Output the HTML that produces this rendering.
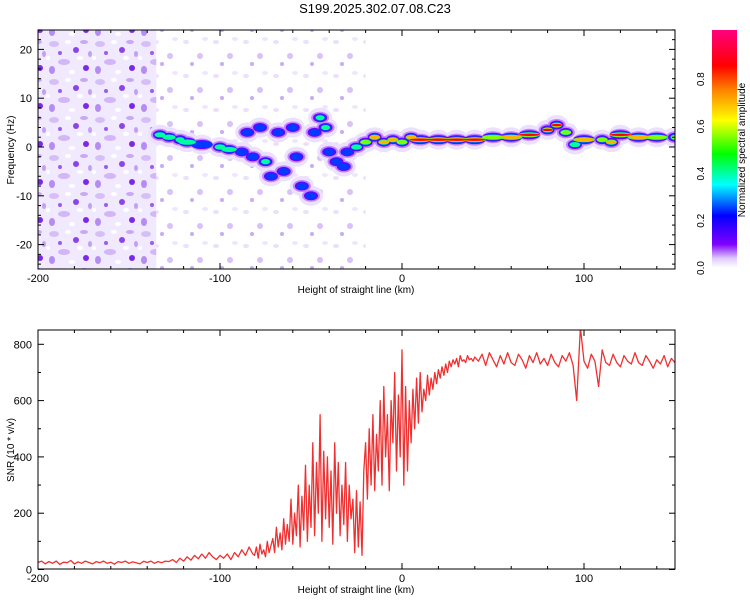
<!DOCTYPE html>
<html><head><meta charset="utf-8"><style>
body{margin:0;background:#fff;font-family:"Liberation Sans",sans-serif}
svg text{font-family:"Liberation Sans",sans-serif;font-size:11px;fill:#000}
</style></head><body>
<svg id="chart" width="750" height="600">
<defs>
<pattern id="noiseA" width="46" height="38" patternUnits="userSpaceOnUse">
<rect width="46" height="38" fill="#f1e9fd"/>
<ellipse cx="8" cy="6" rx="5" ry="3" fill="#d6bff8"/><ellipse cx="30" cy="12" rx="3" ry="3" fill="#8a45ea"/>
<ellipse cx="18" cy="24" rx="6" ry="3" fill="#d2b6f7"/><ellipse cx="40" cy="30" rx="3" ry="3" fill="#7a2ae6"/>
<ellipse cx="6" cy="32" rx="3" ry="4" fill="#b58cf4"/><ellipse cx="26" cy="34" rx="3" ry="2" fill="#fff"/>
<ellipse cx="38" cy="4" rx="4" ry="2" fill="#c9a8f6"/><ellipse cx="14" cy="15" rx="2" ry="2" fill="#9a5df0"/>
<ellipse cx="22" cy="4" rx="3" ry="2" fill="#fff"/><ellipse cx="34" cy="20" rx="3" ry="2" fill="#fff"/>
<ellipse cx="44" cy="16" rx="2" ry="3" fill="#c2a0f5"/><ellipse cx="2" cy="20" rx="2" ry="2" fill="#fff"/>
</pattern>
<pattern id="noiseB" width="30" height="34" patternUnits="userSpaceOnUse">
<ellipse cx="6" cy="8" rx="3" ry="2" fill="#ebdffd"/><ellipse cx="20" cy="22" rx="3" ry="3" fill="#d8c2f8"/>
<ellipse cx="12" cy="30" rx="2" ry="2" fill="#c9abf6"/><ellipse cx="25" cy="5" rx="3" ry="2" fill="#efe6fd"/>
</pattern>
<linearGradient id="cbar" x1="0" y1="1" x2="0" y2="0">
<stop offset="0" stop-color="#ffffff"/><stop offset="0.04" stop-color="#e0ccff"/><stop offset="0.1" stop-color="#8000ff"/>
<stop offset="0.22" stop-color="#0000ff"/><stop offset="0.35" stop-color="#00ffff"/><stop offset="0.48" stop-color="#00ff00"/>
<stop offset="0.62" stop-color="#ffff00"/><stop offset="0.75" stop-color="#ff8000"/><stop offset="0.85" stop-color="#ff0000"/>
<stop offset="1" stop-color="#ff0080"/>
</linearGradient>
<clipPath id="clipTop"><rect x="38" y="30" width="637" height="239"/></clipPath>
<clipPath id="clipBot"><rect x="38" y="330" width="637" height="239"/></clipPath>
</defs>
<text x="375" y="13" text-anchor="middle" style="font-size:13px">S199.2025.302.07.08.C23</text>
<g id="top"></g>
<g id="bot"></g>
<g id="cb"></g>
</svg>
<script>
const xTicks=[-200,-100,0,100];
const fTicks=[-20,-10,0,10,20];
const snrTicks=[0,200,400,600,800];
const cbTicks=[0.0,0.2,0.4,0.6,0.8];
const ridgeKm=[-133,-128,-122,-118,-110,-100,-95,-88,-85,-82,-78,-75,-72,-68,-65,-60,-58,-55,-50,-48,-45,-42,-40,-36,-32,-30,-25,-20,-15,-10,-5,0,5,10,20,30,40,50,60,70,80,85,90,95,100,110,115,120,130,140,150];
const ridgeHz=[2.5,2,1.5,1,0.5,0,-0.5,-1,3,-2,4,-3,-6,3,-5,4,-2,-8,-10,3,6,4,-1,-3,-4,-1,0,1,2,1,1.5,1,2,1.5,1.5,1.5,1.5,2,2,2.5,3.5,4.5,3,0.5,1.5,1.5,1,2.5,2,2,2];
const ridgeAmp=[0.45,0.4,0.5,0.5,0.35,0.5,0.45,0.3,0.3,0.3,0.35,0.4,0.3,0.3,0.3,0.35,0.3,0.3,0.3,0.35,0.4,0.4,0.3,0.35,0.3,0.3,0.5,0.6,0.7,0.8,0.7,0.6,0.8,0.85,0.9,0.9,0.9,0.6,0.8,0.9,0.85,0.9,0.6,0.5,0.8,0.6,0.7,0.85,0.8,0.6,0.6];
// SNR sampled on segments [startKm, endKm, stepKm]
const snrSegments=[[-200,-82,2],[-81,40,1],[42,150,2]];
const snrValuesQuiet=[25,30,20,28,22,30,18,26,24,32,20,27,22,30,25,20,28,24,30,22,26,19,28,25,30,22,27,24,20,29,25,30,22,28,24,30,
28,35,25,40,30,45,33,50,38,55,40,60,45,35,50,
40,55,35,60,45,70,50,80,55];
const snrValuesRise=[50,80,40,90,55,70,45,100,60,85,
110,60,150,80,130,70,180,90,160,100,
250,90,200,120,300,80,260,140,370,100,
300,150,450,120,380,200,550,100,420,180,
400,150,350,90,450,200,380,120,300,160,
380,100,300,180,250,60,280,80,240,50,
350,450,250,500,300,550,280,480,350,600,
300,650,400,550,280,600,450,700,350,620,
400,780,300,650,350,600,450,640,500,680,
520,700,560,640,600,690,620,680,640,700,
660,710,680,720,690,730,700,740,720,745,
730,750,720,760,740,745,735,760,745,750,
740,755];
const snrValuesPlateau=[740,765,725,770,745,720,760,730,770,735,725,765,745,715,760,735,770,730,750,725,765,735,720,760,740,770,725,600,860,740,715,765,740,650,780,735,725,765,735,720,760,740,730,770,735,725,760,740,715,745,730,760,720,750,735];
const NS="http://www.w3.org/2000/svg";
function mk(p,t,a,txt){const e=document.createElementNS(NS,t);for(const k in a)e.setAttribute(k,a[k]);if(txt!==undefined)e.textContent=txt;p.appendChild(e);return e;}
const X=km=>38+(km+200)*637/350;
const YF=hz=>147-hz*4.88;
const YS=v=>569.5-v*0.2815;
function cmap(a){const s=[[0,[255,255,255]],[0.04,[224,204,255]],[0.1,[128,0,255]],[0.22,[0,0,255]],[0.35,[0,255,255]],[0.48,[0,255,0]],[0.62,[255,255,0]],[0.75,[255,128,0]],[0.85,[255,0,0]],[1,[255,0,128]]];
for(let i=1;i<s.length;i++)if(a<=s[i][0]){const t=(a-s[i-1][0])/(s[i][0]-s[i-1][0]);const c=s[i-1][1].map((v,j)=>Math.round(v+(s[i][1][j]-v)*t));return`rgb(${c})`;}return'rgb(255,0,128)';}
const topG=document.getElementById('top'),botG=document.getElementById('bot'),cbG=document.getElementById('cb');
// top panel
const tg=mk(topG,'g',{'clip-path':'url(#clipTop)'});
let r=mk(tg,'rect',{x:X(-200),y:30,width:X(-135)-X(-200),height:239,fill:'url(#noiseA)'});


r=mk(tg,'rect',{x:X(-135),y:30,width:X(-20)-X(-135),height:239,fill:'url(#noiseB)'});


const layers=[[0.02,12,10,'#ece0fd'],[0.05,9,6],[0.12,7,4.5],[0.25,5.5,3.4],[0.4,4.5,2.6],[0.55,3.5,2],[0.7,2.8,1.6],[0.85,2,1.2]];
layers.forEach(([lv,rx,ry,col])=>{ridgeKm.forEach((km,i)=>{const a=ridgeAmp[i];if(a<lv)return;
const w=(i<ridgeKm.length-1)?Math.max(rx,(X(ridgeKm[i+1])-X(km))*0.6):rx;
const e=mk(tg,'ellipse',{cx:X(km),cy:YF(ridgeHz[i]),rx:w,ry:ry,fill:col||cmap(lv===0.05?0.06:lv)});

});});
mk(topG,'rect',{x:38,y:30,width:637,height:239,fill:'none',stroke:'#000','stroke-width':1});
function xAxis(g,y0,y1){xTicks.forEach(t=>{mk(g,'line',{x1:X(t),x2:X(t),y1:y1,y2:y1-6,stroke:'#000'});mk(g,'line',{x1:X(t),x2:X(t),y1:y0,y2:y0+6,stroke:'#000'});
const l=mk(g,'text',{x:X(t),y:y1+13,'text-anchor':'middle'},String(t));

});
for(let k=-180;k<=150;k+=20){if(k%100===0)continue;mk(g,'line',{x1:X(k),x2:X(k),y1:y1,y2:y1-3,stroke:'#000'});mk(g,'line',{x1:X(k),x2:X(k),y1:y0,y2:y0+3,stroke:'#000'});}
const t=mk(g,'text',{x:356,y:y1+24,'text-anchor':'middle',style:'font-size:10px'},'Height of straight line (km)');

}
xAxis(topG,30,269);
fTicks.forEach(t=>{mk(topG,'line',{x1:38,x2:44,y1:YF(t),y2:YF(t),stroke:'#000'});mk(topG,'line',{x1:675,x2:669,y1:YF(t),y2:YF(t),stroke:'#000'});
const l=mk(topG,'text',{x:32,y:YF(t)+4,'text-anchor':'end'},String(t));

});
for(let h=-24;h<=24;h+=2){if(h%10===0)continue;mk(topG,'line',{x1:38,x2:41,y1:YF(h),y2:YF(h),stroke:'#000'});mk(topG,'line',{x1:675,x2:672,y1:YF(h),y2:YF(h),stroke:'#000'});}
let yt=mk(topG,'text',{x:14,y:150,'text-anchor':'middle',transform:'rotate(-90 14 150)',style:'font-size:10px'},'Frequency (Hz)');


// bottom panel
const bg=mk(botG,'g',{'clip-path':'url(#clipBot)'});
const snrKm=[];snrSegments.forEach(([a,b,s])=>{for(let k=a;k<=b;k+=s)snrKm.push(k);});
const snrValues=snrValuesQuiet.concat(snrValuesRise,snrValuesPlateau);
const pts=snrValues.map((v,i)=>X(snrKm[i]).toFixed(1)+','+YS(v).toFixed(1)).join(' ');
const pl=mk(bg,'polyline',{points:pts,fill:'none',stroke:'#f03030','stroke-width':1.3,'stroke-linejoin':'round'});


mk(botG,'rect',{x:38,y:330,width:637,height:239,fill:'none',stroke:'#000'});
xAxis(botG,330,569);
snrTicks.forEach(t=>{mk(botG,'line',{x1:38,x2:44,y1:YS(t),y2:YS(t),stroke:'#000'});mk(botG,'line',{x1:675,x2:669,y1:YS(t),y2:YS(t),stroke:'#000'});
const l=mk(botG,'text',{x:32,y:YS(t)+4,'text-anchor':'end'},String(t));

});
for(let v=100;v<=800;v+=200){mk(botG,'line',{x1:38,x2:41,y1:YS(v),y2:YS(v),stroke:'#000'});mk(botG,'line',{x1:675,x2:672,y1:YS(v),y2:YS(v),stroke:'#000'});}
yt=mk(botG,'text',{x:14,y:450,'text-anchor':'middle',transform:'rotate(-90 14 450)',style:'font-size:10px'},'SNR (10 * v/v)');


// colorbar
const cr=mk(cbG,'rect',{x:712,y:30,width:25,height:238,fill:'url(#cbar)'});


cbTicks.forEach(t=>{const y=268-t*236;const l=mk(cbG,'text',{x:704,y:y,'text-anchor':'middle',transform:`rotate(-90 704 ${y})`,style:'font-size:10px'},t.toFixed(1));

});
const ct=mk(cbG,'text',{x:745,y:150,'text-anchor':'middle',transform:'rotate(-90 745 150)',style:'font-size:10px'},'Normalized spectral amplitude');


</script>
</body></html>
